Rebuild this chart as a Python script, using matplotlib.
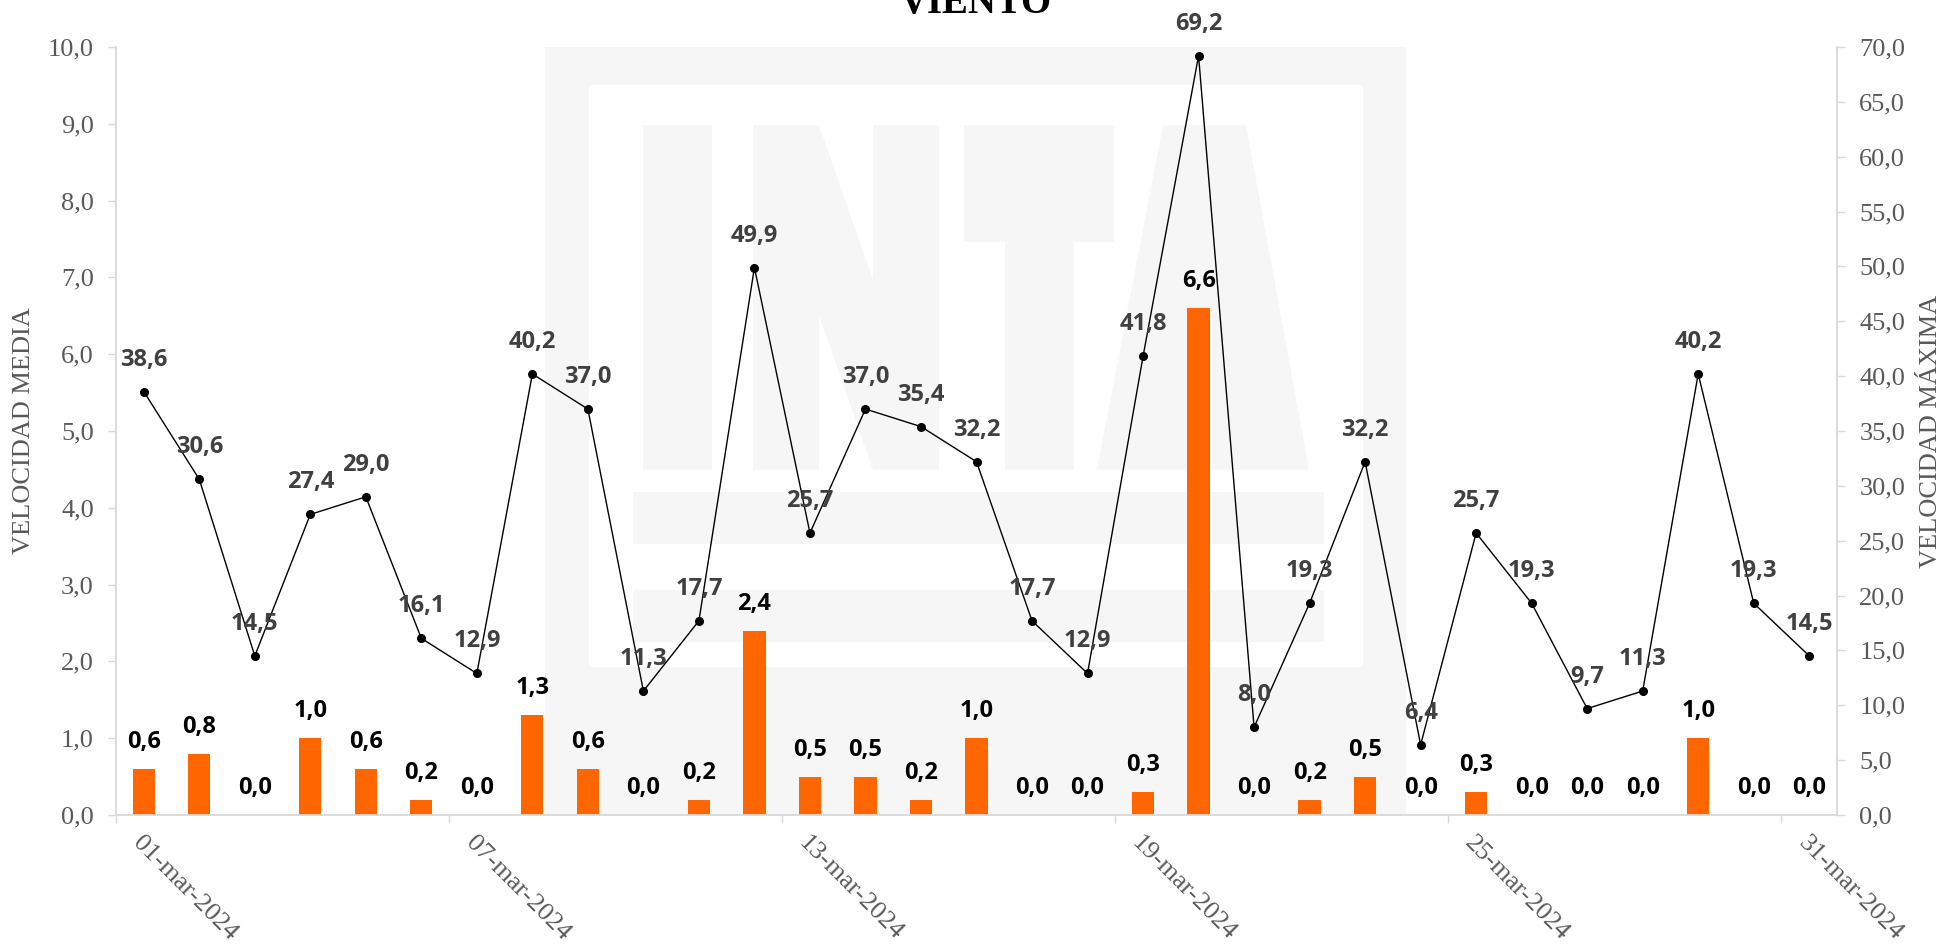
import matplotlib
matplotlib.use('Agg')
import matplotlib.pyplot as plt
from matplotlib.patches import Rectangle, Polygon

# ---------------- data ----------------
fechas = ["01-mar-2024", "02-mar-2024", "03-mar-2024", "04-mar-2024", "05-mar-2024",
          "06-mar-2024", "07-mar-2024", "08-mar-2024", "09-mar-2024", "10-mar-2024",
          "11-mar-2024", "12-mar-2024", "13-mar-2024", "14-mar-2024", "15-mar-2024",
          "16-mar-2024", "17-mar-2024", "18-mar-2024", "19-mar-2024", "20-mar-2024",
          "21-mar-2024", "22-mar-2024", "23-mar-2024", "24-mar-2024", "25-mar-2024",
          "26-mar-2024", "27-mar-2024", "28-mar-2024", "29-mar-2024", "30-mar-2024",
          "31-mar-2024"]
velocidad_media = [0.6, 0.8, 0.0, 1.0, 0.6, 0.2, 0.0, 1.3, 0.6, 0.0,
                   0.2, 2.4, 0.5, 0.5, 0.2, 1.0, 0.0, 0.0, 0.3, 6.6,
                   0.0, 0.2, 0.5, 0.0, 0.3, 0.0, 0.0, 0.0, 1.0, 0.0, 0.0]
velocidad_maxima = [38.6, 30.6, 14.5, 27.4, 29.0, 16.1, 12.9, 40.2, 37.0, 11.3,
                    17.7, 49.9, 25.7, 37.0, 35.4, 32.2, 17.7, 12.9, 41.8, 69.2,
                    8.0, 19.3, 32.2, 6.4, 25.7, 19.3, 9.7, 11.3, 40.2, 19.3, 14.5]
etiquetas_idx = [0, 6, 12, 18, 24, 30]
media_ticks = [0, 1, 2, 3, 4, 5, 6, 7, 8, 9, 10]
maxima_ticks = [0, 5, 10, 15, 20, 25, 30, 35, 40, 45, 50, 55, 60, 65, 70]
titulo = "VIENTO"


def fmt(v):
    return f"{v:.1f}".replace('.', ',')


W, H = 1944, 946
fig = plt.figure(figsize=(W / 100, H / 100), dpi=100)

# ---------------- INTA watermark (background decoration) ----------------
bg = fig.add_axes([0, 0, 1, 1], zorder=0)
bg.set_xlim(0, W)
bg.set_ylim(H, 0)
bg.axis('off')
wm = '#f6f6f6'


def rect(x0, y0, x1, y1, c=wm):
    bg.add_patch(Rectangle((x0, y0), x1 - x0, y1 - y0, facecolor=c, lw=0))


rect(545, 47, 1406, 815)
rect(589, 85, 1363, 667, 'white')
rect(643, 125, 712, 470)                       # I
rect(753, 125, 819, 470)                       # N
rect(873, 125, 939, 470)
bg.add_patch(Polygon([(753, 125), (819, 125), (939, 470), (873, 470)], facecolor=wm, lw=0))
rect(964, 125, 1114, 242)                      # T
rect(1005, 125, 1074, 470)
bg.add_patch(Polygon([(1163, 125), (1246, 125), (1309, 470), (1097, 470)], facecolor=wm, lw=0))  # A
rect(633, 492, 1324, 544)
rect(633, 590, 1324, 642)

# ---------------- main axes ----------------
L, R, T, B = 116, 1837, 47, 815
ax = fig.add_axes([L / W, 1 - B / H, (R - L) / W, (B - T) / H], zorder=1)
ax.patch.set_visible(False)
x = list(range(len(fechas)))

ax.bar(x, velocidad_media, width=0.4, color='#FF6600', zorder=2)
ax.set_xlim(-0.5, len(fechas) - 0.5)
ax.set_ylim(0, 10)

ax2 = ax.twinx()
ax2.set_zorder(2)
ax2.patch.set_visible(False)
ax2.plot(x, velocidad_maxima, color='black', lw=1.0, marker='o', ms=5.5, zorder=3)
ax2.set_ylim(0, 70)

spine_c = '#d9d9d9'
tick_c = '#595959'
serif = ['Liberation Serif', 'DejaVu Serif']
lab_font = ['Open Sans', 'DejaVu Sans']

for a in (ax, ax2):
    a.spines['top'].set_visible(False)
ax.spines['right'].set_visible(False)
ax2.spines['left'].set_visible(False)
ax2.spines['bottom'].set_visible(False)
ax.spines['left'].set_color(spine_c)
ax.spines['bottom'].set_color(spine_c)
ax2.spines['right'].set_color(spine_c)
for s in (ax.spines['left'], ax.spines['bottom'], ax2.spines['right']):
    s.set_linewidth(1.3)

# y ticks
ax.set_yticks(media_ticks)
ax.set_yticklabels([fmt(v) for v in media_ticks], fontfamily=serif, fontsize=19, color=tick_c)
ax.tick_params(axis='y', length=6, width=1, color=spine_c, pad=10)
ax2.set_yticks(maxima_ticks)
ax2.set_yticklabels([fmt(v) for v in maxima_ticks], fontfamily=serif, fontsize=19, color=tick_c)
ax2.tick_params(axis='y', length=6, width=1, color=spine_c, pad=10)

# x ticks: marks at category boundaries, labels at categories
ax.set_xticks([i - 0.5 for i in etiquetas_idx])
ax.set_xticklabels([])
ax.tick_params(axis='x', which='major', length=6, width=1, color=spine_c)
ax.set_xticks(etiquetas_idx, minor=True)
ax.set_xticklabels([fechas[i] for i in etiquetas_idx], minor=True, rotation=-45,
                   ha='left', va='top', rotation_mode='anchor',
                   fontfamily=serif, fontsize=19, color=tick_c)
ax.tick_params(axis='x', which='minor', length=0, pad=12)

# data labels
for xi, v in zip(x, velocidad_media):
    ax.annotate(fmt(v), (xi, v), xytext=(0, 21), textcoords='offset pixels',
                ha='center', va='baseline', fontsize=17, fontweight='bold',
                fontfamily=lab_font, color='black', zorder=4)
for xi, v in zip(x, velocidad_maxima):
    ax2.annotate(fmt(v), (xi, v), xytext=(0, 26), textcoords='offset pixels',
                 ha='center', va='baseline', fontsize=17, fontweight='bold',
                 fontfamily=lab_font, color='#404040', zorder=4)

# axis titles
fig.text(24 / W, 1 - 431 / H, 'VELOCIDAD MEDIA', rotation=90, ha='center', va='center',
         fontfamily=serif, fontsize=19, color=tick_c)
fig.text(1931 / W, 1 - 431 / H, 'VELOCIDAD MÁXIMA', rotation=90, ha='center', va='center',
         fontfamily=serif, fontsize=19, color=tick_c)

# title (partially cut at the top as in the reference)
fig.text(976 / W, 1 - 13 / H, titulo, ha='center', va='baseline',
         fontfamily=serif, fontsize=28, fontweight='bold', color='black')

fig.savefig('out.png', dpi=100)
